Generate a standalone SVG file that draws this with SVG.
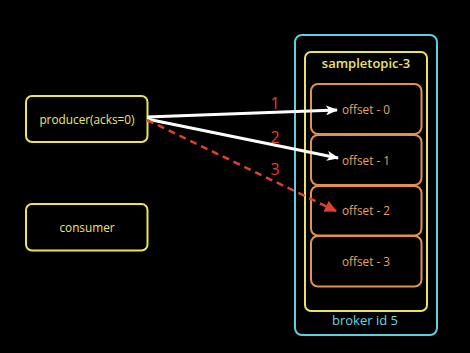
<svg xmlns="http://www.w3.org/2000/svg" width="470" height="353" viewBox="0 0 470 353">
<defs>
<style>
.node{fill:#000;stroke:#ece35c;stroke-width:2}
.off{fill:#000;stroke:#e3924a;stroke-width:2}
.t{font-family:"Open Sans","DejaVu Sans",sans-serif;text-anchor:middle;dominant-baseline:central}
.ty{fill:#ece47a;font-size:11.8px}
.to{fill:#e8a060;font-size:11.8px}
.num{fill:#e0402e;font-size:16px}
.w{stroke:#fff;stroke-width:3;fill:none}
.r{stroke:#e0402e;stroke-width:2.5;fill:none;stroke-dasharray:7 5}
</style>
<marker id="aw" viewBox="0 0 12 10" refX="11" refY="5" markerWidth="12" markerHeight="10" markerUnits="userSpaceOnUse" orient="auto">
<path d="M0,0 L12,5 L0,10 L3,5 Z" fill="#fff"/>
</marker>
<marker id="ar" viewBox="0 0 12 12" refX="11" refY="6" markerWidth="12" markerHeight="12" markerUnits="userSpaceOnUse" orient="auto">
<path d="M0,0 L12,6 L0,12 Z" fill="#e0402e"/>
</marker>
</defs>
<rect width="470" height="353" fill="#000"/>
<g id="broker">
<rect x="295" y="35" width="142" height="300" rx="7" fill="#000" stroke="#5ecfdf" stroke-width="2"/>
<text class="t" x="365" y="320" fill="#6cd4e4" font-size="13">broker id 5</text>
</g>
<g id="sampletopic-3">
<rect x="305" y="52" width="122" height="259" rx="6" class="node"/>
<text class="t ty" x="366" y="63" font-weight="600" style="font-size:13px">sampletopic-3</text>
</g>
<g id="offset-0">
<rect x="311" y="84" width="110.5" height="50" rx="7" class="off"/>
<text class="t to" x="366" y="109">offset - 0</text>
</g>
<g id="offset-1">
<rect x="311" y="135" width="110.5" height="50" rx="7" class="off"/>
<text class="t to" x="366" y="159.5">offset - 1</text>
</g>
<g id="offset-2">
<rect x="311" y="186" width="110.5" height="49.5" rx="7" class="off"/>
<text class="t to" x="366" y="210">offset - 2</text>
</g>
<g id="offset-3">
<rect x="311" y="236" width="110.5" height="50.5" rx="7" class="off"/>
<text class="t to" x="366" y="260.5">offset - 3</text>
</g>
<g id="producer">
<rect x="26" y="96" width="121.5" height="46" rx="6" class="node"/>
<text class="t ty" x="87" y="118.5">producer(acks=0)</text>
</g>
<g id="consumer">
<rect x="26" y="204" width="121.5" height="46.5" rx="6" class="node"/>
<text class="t ty" x="87" y="226.5">consumer</text>
</g>
<g id="connectors">
<line x1="147" y1="117" x2="337" y2="110" class="w" marker-end="url(#aw)"/>
<line x1="147" y1="119" x2="338" y2="158" class="w" marker-end="url(#aw)"/>
<line x1="147" y1="120" x2="336" y2="211" class="r" marker-end="url(#ar)"/>
<text class="t num" x="275" y="103">1</text>
<text class="t num" x="275" y="136.5">2</text>
<text class="t num" x="275" y="168.5">3</text>
</g>
</svg>
